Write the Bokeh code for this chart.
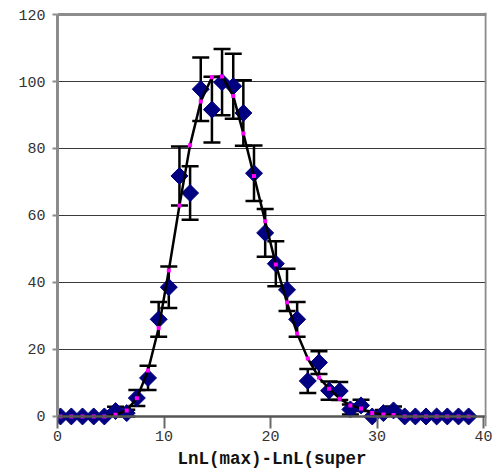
import math

from bokeh.plotting import figure
from bokeh.models import (Range1d, FixedTicker, Whisker, TeeHead,
                          ColumnDataSource, Span)
from bokeh.embed import file_html
from bokeh.resources import INLINE

# Bin centres along LnL(max)-LnL(super)
x_vals = [0.28, 1.3, 2.35, 3.4, 4.4, 5.45, 6.5, 7.45, 8.5, 9.5,
          10.45, 11.45, 12.45, 13.45, 14.5, 15.45, 16.5, 17.45, 18.45, 19.5,
          20.5, 21.55, 22.5, 23.5, 24.55, 25.5, 26.5, 27.5, 28.5, 29.55,
          30.6, 31.55, 32.6, 33.6, 34.6, 35.6, 36.6, 37.65, 38.6]

# Observed counts per bin
counts = [0, 0, 0, 0, 0, 1.6, 1.0, 5.5, 11.5, 29.0,
          38.6, 71.8, 66.7, 97.7, 91.6, 99.8, 98.6, 90.6, 72.6, 54.8,
          45.6, 37.8, 29.0, 10.6, 16.1, 7.7, 7.6, 2.1, 3.3, 0,
          1.0, 1.8, 0, 0, 0, 0, 0, 0, 0]

# Error half-widths for the observed counts
errors = [0, 0, 0, 0, 0, 1.3, 1.0, 2.4, 3.6, 5.2,
          6.2, 8.8, 8.0, 9.5, 9.8, 9.9, 9.7, 9.8, 8.3, 7.1,
          6.7, 6.3, 5.2, 3.6, 3.4, 2.7, 2.7, 1.5, 1.7, 0,
          0.9, 1.2, 0, 0, 0, 0, 0, 0, 0]

# Fitted (expected) counts
fitted = [0, 0, 0, 0, 0, 0.5, 1.8, 5.4, 13.7, 26.4,
          43.6, 63.0, 81.0, 94.0, 101.3, 101.5, 95.7, 84.5, 71.8, 58.3,
          45.4, 34.0, 24.8, 17.3, 11.6, 8.3, 5.3, 3.3, 2.4, 1.0,
          0.6, 0.4, 0, 0, 0, 0, 0, 0, 0]

x_ticks = [0, 10, 20, 30, 40]
y_ticks = [0, 20, 40, 60, 80, 100, 120]
x_title = "LnL(max)-LnL(super"

FONT = "Liberation Mono"

p = figure(width=500, height=472, output_backend="svg", toolbar_location=None,
           x_range=Range1d(0, 40.28), y_range=Range1d(-3.0, 120.6),
           min_border_left=57, min_border_right=14,
           min_border_top=12, min_border_bottom=46)
p.outline_line_color = None
p.background_fill_color = "white"
p.border_fill_color = "white"

# horizontal gridlines
p.xgrid.visible = False
p.ygrid.ticker = FixedTicker(ticks=[20, 40, 60, 80, 100])
p.ygrid.grid_line_color = "#3a3a3a"
p.ygrid.grid_line_width = 1.2

# y axis
p.yaxis.ticker = FixedTicker(ticks=y_ticks)
p.yaxis.bounds = (0, 120)
p.yaxis.axis_line_color = "#8c8c8c"
p.yaxis.axis_line_width = 3
p.yaxis.major_tick_line_color = "#8c8c8c"
p.yaxis.major_tick_line_width = 2
p.yaxis.major_tick_out = 5
p.yaxis.major_tick_in = 0
p.yaxis.minor_tick_line_color = None
p.yaxis.major_label_standoff = 7
p.yaxis.major_label_text_font = FONT
p.yaxis.major_label_text_font_size = "15px"
p.yaxis.major_label_text_color = "#333333"

# x axis: the frame runs a little below zero so the markers on the
# baseline stay whole; the visible axis line is drawn at y = 0
p.xaxis.ticker = FixedTicker(ticks=x_ticks)
p.xaxis.axis_line_color = None
p.xaxis.major_tick_line_color = "#6a6a6a"
p.xaxis.major_tick_line_width = 2
p.xaxis.major_tick_in = 10
p.xaxis.major_tick_out = 2
p.xaxis.minor_tick_line_color = None
p.xaxis.major_label_standoff = 2
p.xaxis.major_label_text_font = FONT
p.xaxis.major_label_text_font_size = "15px"
p.xaxis.major_label_text_color = "#333333"
p.xaxis.axis_label = x_title
p.xaxis.axis_label_text_font = FONT
p.xaxis.axis_label_text_font_style = "bold"
p.xaxis.axis_label_text_font_size = "17.5px"
p.xaxis.axis_label_text_color = "#111111"
p.xaxis.axis_label_standoff = 5

p.add_layout(Span(location=0, dimension="width",
                  line_color="#555555", line_width=2.5))

# frame edges at top and right
p.add_layout(Span(location=120, dimension="width",
                  line_color="#8c8c8c", line_width=3))
p.add_layout(Span(location=40.25, dimension="height",
                  line_color="#8c8c8c", line_width=3))

# error bars
eb = [(x, c, e) for x, c, e in zip(x_vals, counts, errors) if e > 0]
err_src = ColumnDataSource(data=dict(
    x=[t[0] for t in eb],
    lower=[t[1] - t[2] for t in eb],
    upper=[t[1] + t[2] for t in eb],
))
head = dict(size=17, line_color="black", line_width=2.5)
p.add_layout(Whisker(base="x", lower="lower", upper="upper", source=err_src,
                     dimension="height", line_color="black", line_width=2.5,
                     upper_head=TeeHead(**head), lower_head=TeeHead(**head),
                     level="underlay"))

# observed counts as diamonds
p.scatter(x_vals, counts, marker="square", angle=math.pi / 4, size=12,
          fill_color="#000080", line_color="#000080")

# fitted curve with small magenta markers
p.line(x_vals, fitted, line_color="black", line_width=2.5)
p.scatter(x_vals, fitted, marker="square", size=4,
          fill_color="#ff00ff", line_color=None)

open("out.html", "w").write(file_html(p, INLINE))
